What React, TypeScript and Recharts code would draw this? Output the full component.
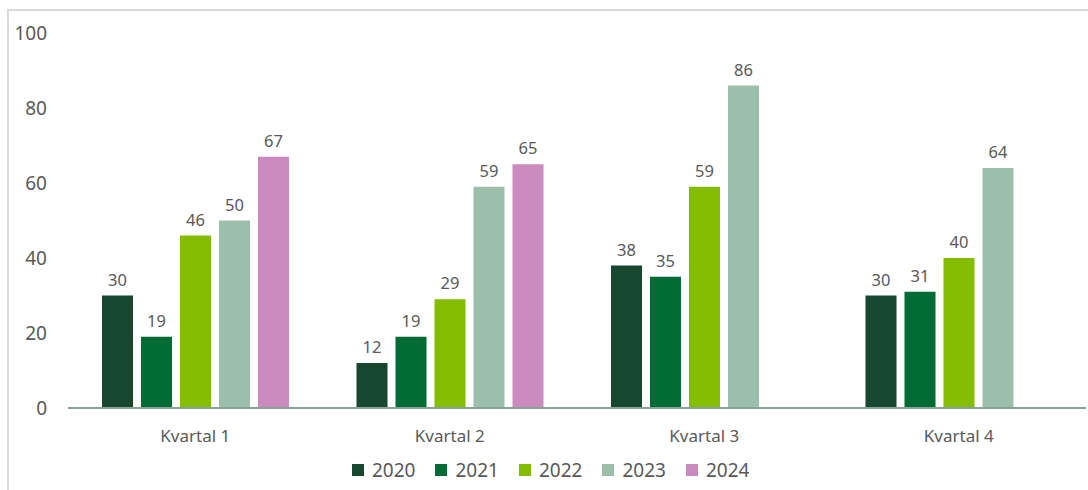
import { BarChart, Bar, XAxis, YAxis, Legend, LabelList } from 'recharts'

const quarters = ['Kvartal 1', 'Kvartal 2', 'Kvartal 3', 'Kvartal 4']
const years = ['2020', '2021', '2022', '2023', '2024']
const values2020 = [30, 12, 38, 30]
const values2021 = [19, 19, 35, 31]
const values2022 = [46, 29, 59, 40]
const values2023 = [50, 59, 86, 64]
const values2024: (number | null)[] = [67, 65, null, null]
const yTicks = [0, 20, 40, 60, 80, 100]

const colors = ['#17472f', '#006b35', '#84bd00', '#9bbfab', '#cc8bbe']
const series = [values2020, values2021, values2022, values2023, values2024]

const data = quarters.map((q, i) => {
  const row: Record<string, string | number | null> = { name: q }
  years.forEach((y, s) => {
    row[y] = series[s][i]
  })
  return row
})

const FONT = '"Noto Sans", "Open Sans", sans-serif'
const TEXT = '#595959'

// ── Leyenda propia ──────────────────────────────────────────────────────
function YearLegend() {
  return (
    <div
      style={{
        display: 'flex',
        alignItems: 'center',
        height: 30,
        paddingLeft: 352,
        fontFamily: FONT,
        fontSize: 19,
        color: TEXT,
      }}
    >
      {years.map((y, i) => (
        <div key={y} style={{ display: 'flex', alignItems: 'center', marginRight: 20 }}>
          <span style={{ width: 12, height: 12, background: colors[i], marginRight: 8 }} />
          <span>{y}</span>
        </div>
      ))}
    </div>
  )
}

export default function App() {
  return (
    <div
      style={{
        position: 'absolute',
        left: 0,
        top: 0,
        width: 1088,
        height: 490,
        background: '#fff',
      }}
    >
      <div
        style={{
          position: 'absolute',
          left: 7,
          top: 9,
          right: 0,
          bottom: 0,
          borderLeft: '2px solid #dadada',
          borderTop: '2px solid #dadada',
        }}
      />
      <BarChart
        width={1088}
        height={490}
        data={data}
        margin={{ top: 33, right: 2, left: 0, bottom: 12 }}
        barSize={31}
        barGap={8}
        style={{ position: 'absolute', left: 0, top: 0 }}
      >
        <XAxis
          dataKey="name"
          height={40}
          tickLine={false}
          axisLine={{ stroke: '#86a395', strokeWidth: 2 }}
          tickMargin={16}
          tick={{ fontSize: 17, fill: TEXT, fontFamily: FONT }}
        />
        <YAxis
          width={68}
          domain={[0, 100]}
          ticks={yTicks}
          axisLine={false}
          tickLine={false}
          tickMargin={15}
          tick={{ fontSize: 19, fill: TEXT, fontFamily: FONT }}
        />
        <Legend
          verticalAlign="bottom"
          content={() => <YearLegend />}
          wrapperStyle={{ left: 0, bottom: 5, width: 1088, height: 30 }}
        />
        {years.map((y, i) => (
          <Bar key={y} dataKey={y} fill={colors[i]} isAnimationActive={false}>
            <LabelList
              dataKey={y}
              position="top"
              offset={10}
              style={{ fontSize: 16.5, fill: TEXT, fontFamily: FONT }}
            />
          </Bar>
        ))}
      </BarChart>
    </div>
  )
}
